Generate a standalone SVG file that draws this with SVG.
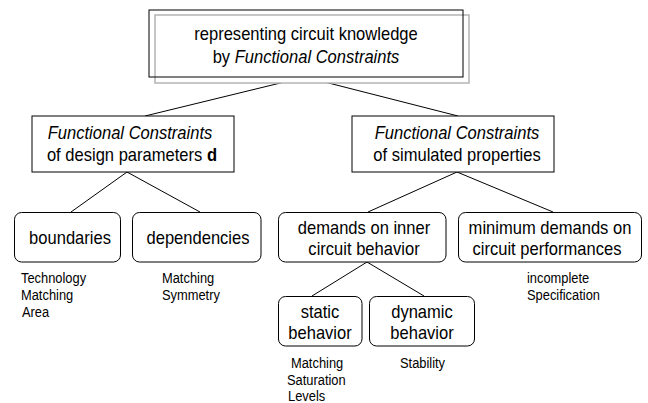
<svg xmlns="http://www.w3.org/2000/svg" width="648" height="403" viewBox="0 0 648 403">
<style>
text{font-family:"Liberation Sans",Arial,sans-serif;fill:#000}
.t{font-size:18px;text-anchor:middle}
.s{font-size:14px}
.i{font-style:italic}
.b{font-weight:bold}
.box{fill:#fff;stroke:#000;stroke-width:1}
.ln{stroke:#000;stroke-width:1;fill:none}
</style>
<rect width="648" height="403" fill="#fff"/>
<g id="connectors">
<line class="ln" x1="305" y1="77" x2="145" y2="116"/>
<line class="ln" x1="305" y1="77" x2="458" y2="116"/>
<line class="ln" x1="127" y1="172" x2="71" y2="212"/>
<line class="ln" x1="127" y1="172" x2="200" y2="212"/>
<line class="ln" x1="457" y1="172" x2="368" y2="212"/>
<line class="ln" x1="457" y1="172" x2="553" y2="212"/>
<line class="ln" x1="367" y1="262" x2="312" y2="296"/>
<line class="ln" x1="367" y1="262" x2="424" y2="296"/>
</g>
<g id="root">
<rect x="155" y="15" width="314" height="68" fill="#fff" stroke="#b4b4b4" stroke-width="1.5"/>
<rect x="149" y="10" width="314" height="67" fill="none" stroke="#000" stroke-width="1"/>
<text class="t" transform="translate(306 40) scale(0.92 1)">representing circuit knowledge</text>
<text class="t" transform="translate(306 63) scale(0.92 1)">by <tspan class="i">Functional Constraints</tspan></text>
</g>
<g id="fc-design">
<rect class="box" x="32" y="116" width="202" height="56"/>
<text class="t i" transform="translate(130 139) scale(0.92 1)">Functional Constraints</text>
<text class="t" transform="translate(132 161) scale(0.92 1)">of design parameters <tspan class="b">d</tspan></text>
</g>
<g id="fc-simulated">
<rect class="box" x="352" y="116" width="202" height="56"/>
<text class="t i" transform="translate(457 139) scale(0.92 1)">Functional Constraints</text>
<text class="t" transform="translate(457 161) scale(0.92 1)">of simulated properties</text>
</g>
<g id="boundaries">
<rect class="box" x="14.5" y="212.5" width="106" height="49.5" rx="7"/>
<text class="t" transform="translate(70 244) scale(0.92 1)">boundaries</text>
<text class="s" transform="translate(21 283) scale(0.92 1)">Technology</text>
<text class="s" transform="translate(21 300) scale(0.92 1)">Matching</text>
<text class="s" transform="translate(22 317) scale(0.92 1)">Area</text>
</g>
<g id="dependencies">
<rect class="box" x="132.5" y="212.5" width="128.5" height="49.5" rx="7"/>
<text class="t" transform="translate(198 244) scale(0.92 1)">dependencies</text>
<text class="s" transform="translate(162 283) scale(0.92 1)">Matching</text>
<text class="s" transform="translate(162 300) scale(0.92 1)">Symmetry</text>
</g>
<g id="inner">
<rect class="box" x="278.5" y="212.5" width="167.5" height="49.5" rx="7"/>
<text class="t" transform="translate(364 234) scale(0.92 1)">demands on inner</text>
<text class="t" transform="translate(364 255) scale(0.92 1)">circuit behavior</text>
</g>
<g id="minimum">
<rect class="box" x="458.5" y="212.5" width="183" height="49.5" rx="7"/>
<text class="t" transform="translate(550 234) scale(0.92 1)">minimum demands on</text>
<text class="t" transform="translate(547 255) scale(0.92 1)">circuit performances</text>
<text class="s" transform="translate(527 283) scale(0.92 1)">incomplete</text>
<text class="s" transform="translate(527 300) scale(0.92 1)">Specification</text>
</g>
<g id="static">
<rect class="box" x="278.5" y="296.5" width="83.5" height="49.5" rx="7"/>
<text class="t" transform="translate(320 318) scale(0.92 1)">static</text>
<text class="t" transform="translate(320 339) scale(0.92 1)">behavior</text>
<text class="s" transform="translate(291 368) scale(0.92 1)">Matching</text>
<text class="s" transform="translate(287 385) scale(0.92 1)">Saturation</text>
<text class="s" transform="translate(288 401) scale(0.92 1)">Levels</text>
</g>
<g id="dynamic">
<rect class="box" x="369.5" y="296.5" width="105" height="49.5" rx="7"/>
<text class="t" transform="translate(422 318) scale(0.92 1)">dynamic</text>
<text class="t" transform="translate(422 339) scale(0.92 1)">behavior</text>
<text class="s" transform="translate(400 368) scale(0.92 1)">Stability</text>
</g>
</svg>
